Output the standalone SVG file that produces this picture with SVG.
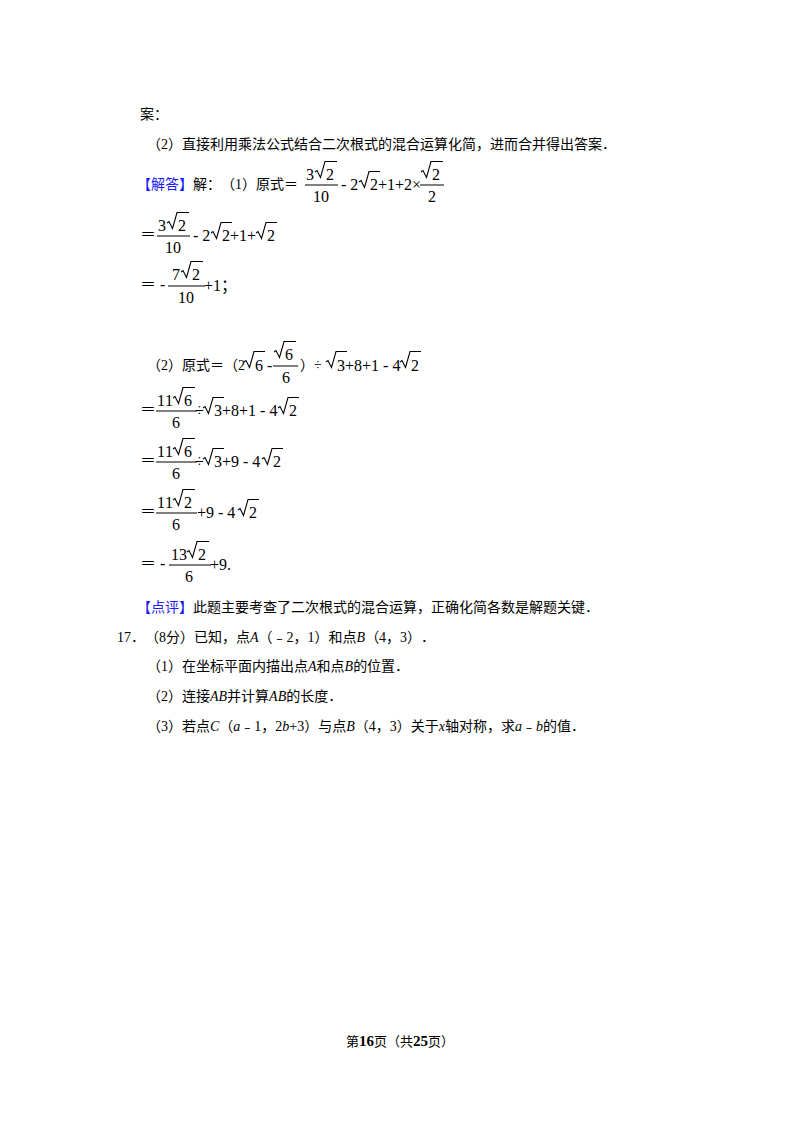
<svg xmlns="http://www.w3.org/2000/svg" width="800" height="1132" viewBox="0 0 800 1132">
<style>
text{font-family:"Liberation Serif","Noto Sans CJK SC",serif;font-size:14px;fill:#000;text-spacing-trim:space-all;font-kerning:none}
.m{font-size:16px}
.b{fill:#1a1aff}
.r{fill:none;stroke:#000;stroke-width:1.1}
.f{stroke:#000;stroke-width:1}
.i{font-style:italic}
</style>
<rect width="800" height="1132" fill="#fff"/>
<g id="text">
<text x="140" y="119">案：</text>
<text x="147" y="149">（2）直接利用乘法公式结合二次根式的混合运算化简，进而合并得出答案．</text>

<text x="137" y="189"><tspan class="b">【解答】</tspan>解：（1）原式＝</text>
<text class="m" x="306" y="180">3</text><path class="r" d="M315 172 l2 -1.5 l3.5 7 l4.5 -16 h12"/><text class="m" x="326" y="180">2</text>
<line class="f" x1="305" y1="185" x2="338" y2="185"/><text class="m" x="313" y="202">10</text>
<text class="m" x="341" y="190">- 2</text><path class="r" d="M359 182 l2 -1.5 l3.5 7 l4.5 -16 h11"/><text class="m" x="370" y="190">2+1+2×</text>
<path class="r" d="M421 172 l2 -1.5 l3.5 7 l4.5 -16 h12"/><text class="m" x="432" y="180">2</text>
<line class="f" x1="420" y1="185" x2="444" y2="185"/><text class="m" x="428" y="202">2</text>

<text class="m" x="140" y="240">＝</text>
<text class="m" x="158" y="231">3</text><path class="r" d="M167 223 l2 -1.5 l3.5 7 l4.5 -16 h12"/><text class="m" x="178" y="231">2</text>
<line class="f" x1="157" y1="236" x2="190" y2="236"/><text class="m" x="165" y="253">10</text>
<text class="m" x="193" y="241">- 2</text><path class="r" d="M211 233 l2 -1.5 l3.5 7 l4.5 -16 h11"/><text class="m" x="222" y="241">2+1+</text>
<path class="r" d="M256 233 l2 -1.5 l3.5 7 l4.5 -16 h11"/><text class="m" x="267" y="241">2</text>

<text class="m" x="140" y="290">＝ -</text>
<text class="m" x="172" y="280">7</text><path class="r" d="M181 272 l2 -1.5 l3.5 7 l4.5 -16 h12"/><text class="m" x="192" y="280">2</text>
<line class="f" x1="168" y1="286" x2="205" y2="286"/><text class="m" x="178" y="303">10</text>
<text class="m" x="204" y="291">+1；</text>

<text x="147" y="370">（2）原式＝（2</text>
<path class="r" d="M244 362 l2 -1.5 l3.5 7 l4.5 -16 h11"/><text class="m" x="255" y="371">6 -</text>
<path class="r" d="M274 352 l2 -1.5 l3.5 7 l4.5 -16 h12"/><text class="m" x="285" y="360">6</text>
<line class="f" x1="273" y1="366" x2="298" y2="366"/><text class="m" x="282" y="383">6</text>
<text x="300" y="370">）÷</text>
<path class="r" d="M326 362 l2 -1.5 l3.5 7 l4.5 -16 h11"/><text class="m" x="337" y="371">3+8+1 - 4</text>
<path class="r" d="M400 362 l2 -1.5 l3.5 7 l4.5 -16 h11"/><text class="m" x="411" y="371">2</text>

<g id="l2">
<text class="m" x="140" y="415">＝</text>
<text class="m" x="157" y="406">11</text><path class="r" d="M173 398 l2 -1.5 l3.5 7 l4.5 -16 h12"/><text class="m" x="184" y="406">6</text>
<line class="f" x1="156" y1="411" x2="197" y2="411"/><text class="m" x="172" y="428">6</text>
<text class="m" x="195" y="416">÷</text>
<path class="r" d="M203 408 l2 -1.5 l3.5 7 l4.5 -16 h11"/><text class="m" x="214" y="416">3+8+1 - 4</text>
<path class="r" d="M278 408 l2 -1.5 l3.5 7 l4.5 -16 h11"/><text class="m" x="289" y="416">2</text>
</g>
<g id="l3">
<text class="m" x="140" y="466">＝</text>
<text class="m" x="157" y="457">11</text><path class="r" d="M173 449 l2 -1.5 l3.5 7 l4.5 -16 h12"/><text class="m" x="184" y="457">6</text>
<line class="f" x1="156" y1="462" x2="197" y2="462"/><text class="m" x="172" y="479">6</text>
<text class="m" x="195" y="467">÷</text>
<path class="r" d="M203 459 l2 -1.5 l3.5 7 l4.5 -16 h11"/><text class="m" x="214" y="467">3+9 - 4</text>
<path class="r" d="M262 459 l2 -1.5 l3.5 7 l4.5 -16 h11"/><text class="m" x="273" y="467">2</text>
</g>
<g id="l4">
<text class="m" x="140" y="517">＝</text>
<text class="m" x="157" y="508">11</text><path class="r" d="M173 500 l2 -1.5 l3.5 7 l4.5 -16 h12"/><text class="m" x="184" y="508">2</text>
<line class="f" x1="156" y1="513" x2="197" y2="513"/><text class="m" x="172" y="530">6</text>
<text class="m" x="197" y="518">+9 - 4</text>
<path class="r" d="M238 510 l2 -1.5 l3.5 7 l4.5 -16 h11"/><text class="m" x="249" y="518">2</text>
</g>
<g id="l5">
<text class="m" x="140" y="569">＝ -</text>
<text class="m" x="171" y="560">13</text><path class="r" d="M187 552 l2 -1.5 l3.5 7 l4.5 -16 h12"/><text class="m" x="198" y="560">2</text>
<line class="f" x1="169" y1="565" x2="211" y2="565"/><text class="m" x="185" y="582">6</text>
<text class="m" x="210" y="570">+9.</text>
</g>

<text x="137" y="612"><tspan class="b">【点评】</tspan>此题主要考查了二次根式的混合运算，正确化简各数是解题关键．</text>
<text x="117" y="642">17．（8分）已知，点<tspan class="i">A</tspan>（﹣2，1）和点<tspan class="i">B</tspan>（4，3）．</text>
<text x="147" y="671">（1）在坐标平面内描出点<tspan class="i">A</tspan>和点<tspan class="i">B</tspan>的位置．</text>
<text x="147" y="701">（2）连接<tspan class="i">AB</tspan>并计算<tspan class="i">AB</tspan>的长度．</text>
<text x="147" y="731">（3）若点<tspan class="i">C</tspan>（<tspan class="i">a</tspan>﹣1，2<tspan class="i">b</tspan>+3）与点<tspan class="i">B</tspan>（4，3）关于<tspan class="i">x</tspan>轴对称，求<tspan class="i">a</tspan>﹣<tspan class="i">b</tspan>的值．</text>

<text x="400" y="1046" text-anchor="middle" style="font-size:13px">第<tspan font-weight="bold" font-size="15">16</tspan>页（共<tspan font-weight="bold" font-size="15">25</tspan>页）</text>
</g>
</svg>
